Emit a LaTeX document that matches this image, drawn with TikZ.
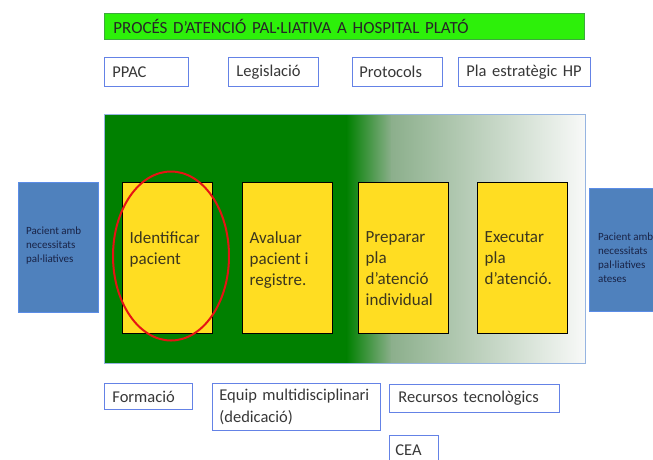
\documentclass[tikz,border=0pt]{standalone}
\usepackage{fontspec}
\setmainfont{Carlito}
\usetikzlibrary{shapes.geometric}
\definecolor{titlegreen}{RGB}{45,240,10}
\definecolor{titleborder}{RGB}{60,170,60}
\definecolor{boxblue}{RGB}{100,130,230}
\definecolor{frameblue}{RGB}{150,180,225}
\definecolor{darkgreen}{RGB}{0,128,0}
\definecolor{midgreen}{RGB}{140,175,140}
\definecolor{paleend}{RGB}{248,249,248}
\definecolor{yellowbox}{RGB}{255,221,34}
\definecolor{sideblue}{RGB}{79,129,189}
\definecolor{sideborder}{RGB}{90,140,230}
\definecolor{textgray}{RGB}{55,55,55}
\definecolor{ytextcol}{RGB}{60,55,30}
\definecolor{sidetext}{RGB}{25,35,70}
\definecolor{ellred}{RGB}{230,20,20}
\begin{document}
\begin{tikzpicture}[x=1pt,y=-1pt,
  labelbox/.style={draw=boxblue, fill=white, line width=0.8pt, anchor=north west,
    inner xsep=8pt, inner ysep=0pt, align=left, text=textgray,
    font=\fontsize{16.5}{21.5}\selectfont},
  titlebar/.style={draw=titleborder, fill=titlegreen, line width=0.8pt, anchor=north west,
    inner xsep=9pt, inner ysep=0pt, align=left, text=black!85,
    font=\fontsize{17}{20}\selectfont},
  ybox/.style={draw=black, fill=yellowbox, line width=0.8pt, anchor=north west,
    minimum width=90pt, minimum height=151pt, inner sep=0pt},
  ytext/.style={anchor=north west, inner sep=0pt, align=left, text=ytextcol,
    font=\fontsize{17}{21}\selectfont},
  sidebox/.style={draw=sideborder, fill=sideblue, line width=0.8pt, anchor=north west, inner sep=0pt},
  sidetxt/.style={anchor=north west, inner sep=0pt, align=left, text=sidetext,
    font=\fontsize{11}{14}\selectfont},
]
\useasboundingbox (0,0) rectangle (653,459);
\clip (0,0) rectangle (653,459);
\fill[white] (0,0) rectangle (653,459);

% title
\node[titlebar, minimum width=480pt, minimum height=26pt, text width=462pt] (title) at (104,13)
  {PROCÉS D’ATENCIÓ PAL·LIATIVA A HOSPITAL PLATÓ};

% top boxes
\node[labelbox, minimum height=29pt, text width=68pt] (ppac) at (104,57) {PPAC};
\node[labelbox, minimum height=29pt, text width=74pt] (legis) at (228,57) {Legislació};
\node[labelbox, minimum height=29pt, text width=76pt, inner xsep=7pt] (protoc) at (352,57) {Protocols};
\node[labelbox, minimum height=29pt, text width=116pt] (plaest) at (458,57) {Pla estratègic HP};

% central panel with gradient
\fill[darkgreen] (104,114) rectangle (347,363);
\shade[left color=darkgreen, right color=midgreen] (346.5,114) rectangle (392,363);
\shade[left color=midgreen, right color=paleend] (391.5,114) rectangle (585,363);
\node[draw=frameblue, line width=0.8pt, anchor=north west, minimum width=481pt,
  minimum height=249pt, inner sep=0pt] (panel) at (104,114) {};

% side boxes
\node[sidebox, minimum width=80pt, minimum height=130pt] (leftbox) at (18,182) {};
\node[sidetxt] (lefttxt) at ([xshift=8pt,yshift=-45pt]leftbox.north west)
  {Pacient amb\\necessitats\\pal·liatives};
\node[sidebox, minimum width=80pt, minimum height=123pt] (rightbox) at (589,188) {};
\node[sidetxt] (righttxt) at ([xshift=9pt,yshift=-45pt]rightbox.north west)
  {Pacient amb\\necessitats\\pal·liatives\\ateses};

% yellow process boxes
\node[ybox] (ident) at (122,182) {};
\node[ybox] (aval) at (242,182) {};
\node[ybox] (prep) at (358,182) {};
\node[ybox] (exec) at (477,182) {};
\node[ytext] (identt) at ([xshift=7.5pt,yshift=-49pt]ident.north west) {Identificar\\pacient};
\node[ytext] (avalt) at ([xshift=7.5pt,yshift=-49pt]aval.north west) {Avaluar\\pacient i\\registre.};
\node[ytext] (prept) at ([xshift=7.5pt,yshift=-49pt]prep.north west) {Preparar\\pla\\d’atenció\\individual};
\node[ytext] (exect) at ([xshift=7.5pt,yshift=-49pt]exec.north west) {Executar\\pla\\d’atenció.};

% red ellipse
\node[ellipse, draw=ellred, line width=2pt, minimum width=116pt, minimum height=169pt,
  inner sep=0pt] (highlight) at (171,256) {};

% bottom boxes
\node[labelbox, minimum height=26pt, text width=72pt] (form) at (104,383) {Formació};
\node[labelbox, minimum height=47pt, text width=154pt, inner xsep=7pt] (equip) at (212,383)
  {Equip multidisciplinari\\(dedicació)};
\node[labelbox, minimum height=28pt, text width=152pt, inner xsep=9pt] (recur) at (389,384)
  {Recursos tecnològics};
\node[labelbox, minimum height=30pt, text width=37pt, inner xsep=6pt] (cea) at (389,435) {CEA};
\end{tikzpicture}
\end{document}
